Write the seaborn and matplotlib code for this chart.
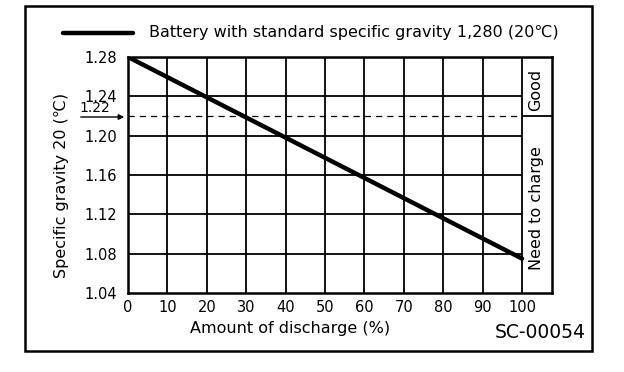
import matplotlib
matplotlib.use("Agg")
import matplotlib.pyplot as plt
import seaborn as sns
import pandas as pd
from matplotlib.patches import Rectangle
from matplotlib.lines import Line2D

# data
discharge = [0, 20, 40, 60, 80, 100]
gravity = [1.28, 1.239, 1.198, 1.157, 1.116, 1.075]
x_ticks = [0, 10, 20, 30, 40, 50, 60, 70, 80, 90, 100]
y_ticks = [1.04, 1.08, 1.12, 1.16, 1.20, 1.24, 1.28]
y_tick_labels = ["1.04", "1.08", "1.12", "1.16", "1.20", "1.24", "1.28"]
threshold = 1.22
legend_label = "Battery with standard specific gravity 1,280 (20\u2103)"

sns.set_style("white")
plt.rcParams['font.family'] = ['DejaVu Sans']
plt.rcParams['text.color'] = 'black'
plt.rcParams['axes.labelcolor'] = 'black'
plt.rcParams['xtick.color'] = 'black'
plt.rcParams['ytick.color'] = 'black'

df = pd.DataFrame({"discharge": discharge, "gravity": gravity})

fig = plt.figure(figsize=(6.24, 3.72), dpi=100)
W, H = 624, 372
x0, x1, y0, y1 = 128, 552, 57, 293
ax = fig.add_axes([x0 / W, 1 - y1 / H, (x1 - x0) / W, (y1 - y0) / H])
xmax = 100 + (x1 - 522) / 3.94
ax.set_xlim(0, xmax)
ax.set_ylim(1.04, 1.28)

# grid
for xv in x_ticks[1:]:
    ax.axvline(xv, color="black", lw=1.3, zorder=1)
for yv in y_ticks[1:-1]:
    ax.hlines(yv, 0, 100, color="black", lw=1.3, zorder=1)
ax.hlines(threshold, 0, 100, color="black", lw=0.9, linestyles=(0, (5, 4)), zorder=1)
ax.hlines(threshold, 100, xmax, color="black", lw=1.3, zorder=1)

sns.lineplot(data=df, x="discharge", y="gravity", color="black", lw=3.2, ax=ax, zorder=3)

for s in ax.spines.values():
    s.set_linewidth(1.8)
    s.set_color("black")

ax.set_xticks(x_ticks)
ax.set_xticklabels([str(v) for v in x_ticks])
ax.set_yticks(y_ticks)
ax.set_yticklabels(y_tick_labels)
ax.tick_params(length=0, labelsize=10.5, colors="black", labelcolor="black")
ax.tick_params(axis="x", pad=5)
ax.tick_params(axis="y", pad=8)
ax.set_xlabel("")
ax.set_ylabel("")

# labels
fig.text(290 / W, 1 - 328 / H, "Amount of discharge (%)", ha="center", va="center",
         fontsize=11.5, color="black")
fig.text(62 / W, 1 - 185 / H, "Specific gravity 20 (\u2103)", ha="center", va="center",
         rotation=90, fontsize=11.5, color="black")
fig.text(536 / W, 1 - 90 / H, "Good", ha="center", va="center", rotation=90,
         fontsize=11.5, color="black")
fig.text(536 / W, 1 - 208 / H, "Need to charge", ha="center", va="center", rotation=90,
         fontsize=11.5, color="black")
fig.text(540 / W, 1 - 333 / H, "SC-00054", ha="center", va="center", fontsize=13.5, color="black")

# 1.22 marker with arrow
fig.text(95 / W, 1 - 115 / H, "1.22", ha="center", va="bottom", fontsize=10, color="black")
ax.annotate("", xy=(127 / W, 1 - 117 / H), xytext=(78 / W, 1 - 117 / H),
            xycoords="figure fraction", textcoords="figure fraction",
            arrowprops=dict(arrowstyle="-|>", color="black", lw=1.0, mutation_scale=8))

# legend
fig.add_artist(Line2D([63 / W, 133 / W], [1 - 33 / H, 1 - 33 / H], color="black", lw=3.2,
                      transform=fig.transFigure))
fig.text(149 / W, 1 - 33 / H, legend_label, ha="left", va="center", fontsize=11.5, color="black")

# outer frame
fig.add_artist(Rectangle((25 / W, 1 - 351 / H), (592 - 25) / W, (351 - 6) / H,
                         transform=fig.transFigure, fill=False, lw=1.8, ec="black"))

fig.savefig("out.png", dpi=100)
